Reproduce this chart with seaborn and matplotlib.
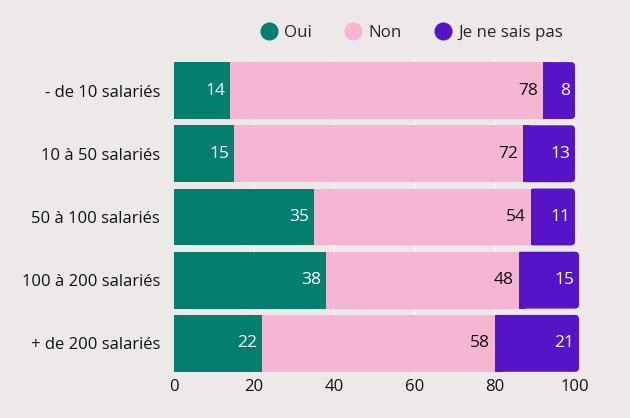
import matplotlib
matplotlib.use("Agg")
import matplotlib.pyplot as plt
import seaborn as sns
import numpy as np
import pandas as pd
from matplotlib.patches import FancyBboxPatch
from matplotlib.lines import Line2D

categories = ["- de 10 salariés", "10 à 50 salariés", "50 à 100 salariés",
              "100 à 200 salariés", "+ de 200 salariés"]
oui = [14, 15, 35, 38, 22]
non = [78, 72, 54, 48, 58]
nsp = [8, 13, 11, 15, 21]
series_names = ["Oui", "Non", "Je ne sais pas"]
colors = ["#047e6e", "#f4b6d2", "#5514c8"]
text_colors = ["white", "#111111", "white"]
ticks = [0, 20, 40, 60, 80, 100]

bg = "#ece9e8"
sns.set_theme(style="white")
plt.rcParams["font.family"] = ["Open Sans", "DejaVu Sans"]

fig = plt.figure(figsize=(6.3, 4.18), dpi=100, facecolor=bg)
ax = fig.add_axes([0.276, 0.103, 0.6367, 0.756])
ax.set_facecolor(bg)

c1 = np.array(oui)
c2 = c1 + np.array(non)
c3 = c2 + np.array(nsp)
df = pd.DataFrame({"cat": categories, "c1": c1, "c2": c2, "c3": c3})

for col, color in zip(["c3", "c2", "c1"], colors[::-1]):
    sns.barplot(data=df, y="cat", x=col, orient="h", color=color,
                width=0.9, ax=ax, saturation=1, zorder=3,
                linewidth=0, edgecolor="none")

for p in ax.patches:
    p.set_clip_on(False)

# round right end of the purple bars (only the visible purple part)
purple_patches = list(ax.patches[:len(categories)])
for p in purple_patches:
    x0, y0 = p.get_x(), p.get_y()
    w, h = p.get_width(), p.get_height()
    idx = int(round(y0 + h / 2))
    start = c2[idx] - 0.3
    p.set_visible(False)
    fb = FancyBboxPatch((start, y0), x0 + w - start, h,
                        boxstyle="round,pad=0,rounding_size=1.0",
                        mutation_aspect=0.063,
                        facecolor=colors[2], edgecolor="none", zorder=2.5,
                        clip_on=False)
    ax.add_patch(fb)
    ax.add_patch(plt.Rectangle((start, y0), 2, h, facecolor=colors[2],
                               edgecolor="none", zorder=2.5, clip_on=False))

ends = [c1, c2, c3]
for s in range(3):
    vals = [oui, non, nsp][s]
    for i in range(len(categories)):
        ax.text(ends[s][i] - 1.2, i, str(vals[i]),
                ha="right", va="center", color=text_colors[s],
                fontsize=12.5, zorder=5)

ax.set_xlim(0, 100)
ax.set_xticks(ticks)
ax.set_xticklabels([str(t) for t in ticks], fontsize=12, color="#111111")
ax.tick_params(axis="y", labelsize=12, colors="#111111", length=0, pad=10)
ax.tick_params(axis="x", length=0, pad=3)
ax.set_xlabel("")
ax.set_ylabel("")
ax.xaxis.grid(True, color="#f7f5f4", linewidth=1.2, zorder=0)
ax.set_axisbelow(True)
for sp in ax.spines.values():
    sp.set_visible(False)

handles = [Line2D([0], [0], marker="o", linestyle="", markersize=13,
                  markerfacecolor=c, markeredgecolor="none") for c in colors]
fig.legend(handles, series_names, loc="center", bbox_to_anchor=(0.653, 0.922),
           ncol=3, frameon=False, fontsize=12.2, handletextpad=0.35,
           columnspacing=1.9, handlelength=1.1)

fig.savefig("out.png", dpi=100, facecolor=bg)
